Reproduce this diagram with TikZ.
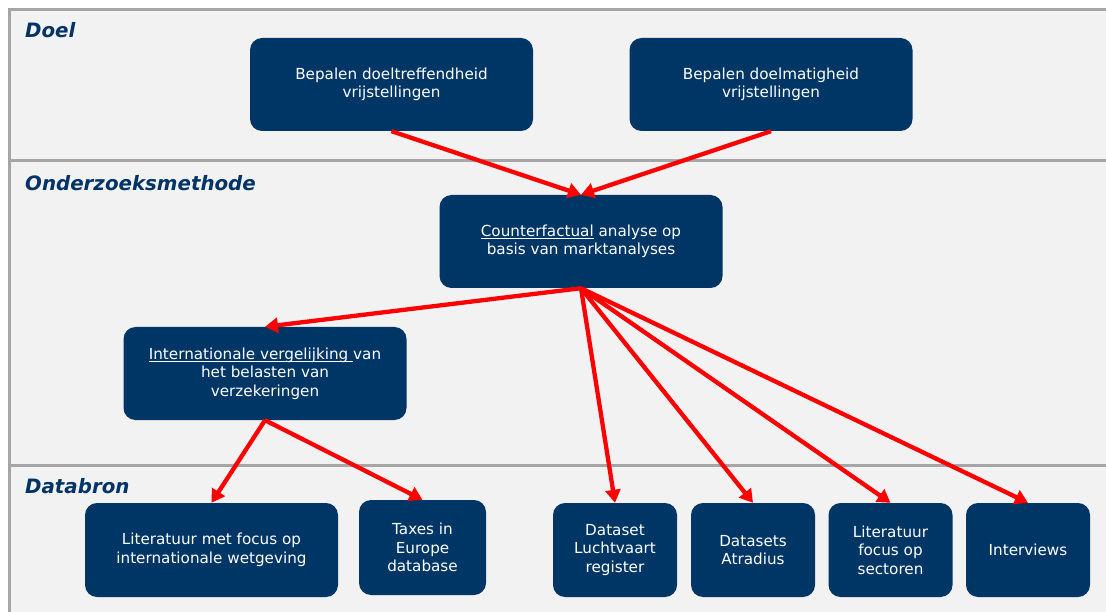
\documentclass[tikz,border=0pt]{standalone}
\usepackage{fontspec}
\setmainfont{DejaVu Sans}
\usetikzlibrary{arrows.meta}
\definecolor{navy}{RGB}{0,54,101}
\definecolor{bandgray}{RGB}{242,242,242}
\definecolor{linegray}{RGB}{166,166,166}
\definecolor{labelblue}{RGB}{0,51,102}
\newcommand\myul[1]{\leavevmode\setbox0\hbox{#1}\rlap{\rule[-2.2pt]{\wd0}{0.8pt}}\box0\relax}
\begin{document}
\begin{tikzpicture}[x=1pt,y=-1pt,
  box/.style={fill=navy, rounded corners=12pt, text=white, align=center,
    font=\fontsize{15.2}{18.5}\selectfont, inner sep=0pt},
  big/.style={box, minimum width=283pt, minimum height=93pt},
  small/.style={box, minimum width=124pt, minimum height=94pt},
  arr/.style={draw=red, line width=4.3pt, -{Triangle[length=13pt,width=15pt]}},
  lbl/.style={anchor=west, text=labelblue, inner sep=0pt,
    font=\fontsize{19.8}{22}\selectfont\bfseries\itshape},
  sep/.style={draw=linegray, line width=3pt}]
\useasboundingbox (0,0) rectangle (1106,612);
\fill[bandgray] (9,10) rectangle (1106,612);
\draw[sep] (9,10) -- (1106,10);
\draw[sep] (9,161) -- (1106,161);
\draw[sep] (9,465) -- (1106,465);
\draw[sep] (9,8.5) -- (9,612);

\node[lbl] (ldoel) at (25,30) {Doel};
\node[lbl] (lmeth) at (25,183) {Onderzoeksmethode};
\node[lbl] (ldata) at (25,486) {Databron};

\node[big] (b1) at (391.5,84.5) {Bepalen doeltreffendheid\\vrijstellingen};
\node[big] (b2) at (771,84.5) {Bepalen doelmatigheid\\vrijstellingen};
\node[big] (b3) at (581,241.5) {\myul{Counterfactual} analyse op\\basis van marktanalyses};
\node[big] (b4) at (265,373.5) {\myul{Internationale vergelijking\ }van\\het belasten van\\verzekeringen};

\node[box, minimum width=253pt, minimum height=94pt] (d1) at (211.5,550) {Literatuur met focus op\\internationale wetgeving};
\node[box, minimum width=127pt, minimum height=95pt] (d2) at (422.5,547.5) {Taxes in\\Europe\\database};
\node[small] (d3) at (615,550) {Dataset\\Luchtvaart\\register};
\node[small] (d4) at (753,550) {Datasets\\Atradius};
\node[small] (d5) at (890.5,550) {Literatuur\\focus op\\sectoren};
\node[small] (d6) at (1028,550) {Interviews};

\draw[arr] (b1.south) -- (b3.north);
\draw[arr] (b2.south) -- (b3.north);
\draw[arr] (b3.south) -- (b4.north);
\draw[arr] (b3.south) -- (d3.north);
\draw[arr] (b3.south) -- (d4.north);
\draw[arr] (b3.south) -- (d5.north);
\draw[arr] (b3.south) -- (d6.north);
\draw[arr] (b4.south) -- (d1.north);
\draw[arr] (b4.south) -- (d2.north);
\end{tikzpicture}
\end{document}
